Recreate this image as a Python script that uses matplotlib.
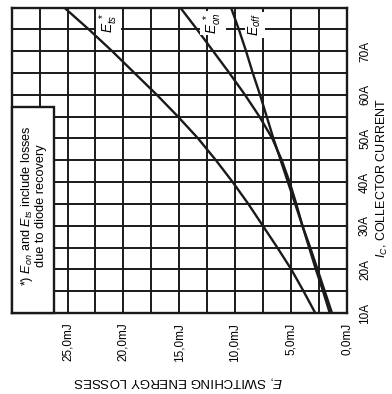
import matplotlib
matplotlib.use("Agg")
import matplotlib.pyplot as plt
from matplotlib.patches import Rectangle

plt.rcParams['font.family'] = ['Liberation Sans', 'DejaVu Sans']
plt.rcParams['mathtext.fontset'] = 'custom'
plt.rcParams['mathtext.rm'] = 'Liberation Sans'
plt.rcParams['mathtext.it'] = 'Liberation Sans:italic'

# collector current (A) and switching losses (mJ)
current = [10, 15, 20, 25, 30, 35, 40, 45, 50, 55, 60, 65, 70, 75, 80]
e_ts = [2.8, 3.85, 4.95, 6.2, 7.5, 8.8, 10.2, 11.7, 13.3, 15.1, 17.0, 19.0, 21.0, 23.1, 25.3]
e_on = [1.5, 2.1, 2.75, 3.35, 3.95, 4.5, 5.1, 5.8, 6.65, 7.8, 9.1, 10.5, 11.95, 13.4, 14.9]
e_off = [1.3, 1.95, 2.6, 3.25, 3.95, 4.6, 5.25, 5.9, 6.55, 7.15, 7.75, 8.4, 9.0, 9.65, 10.35]

energy_ticks = [0, 5, 10, 15, 20, 25]
energy_labels = ['0,0mJ', '5,0mJ', '10,0mJ', '15,0mJ', '20,0mJ', '25,0mJ']
current_ticks = [10, 20, 30, 40, 50, 60, 70]
current_labels = ['10A', '20A', '30A', '40A', '50A', '60A', '70A']

W, H = 392, 394
fig = plt.figure(figsize=(W / 100, H / 100), dpi=100)
# the sheet is drawn turned on its side: energy runs right-to-left along
# the bottom, current runs upward along the right edge
ax = fig.add_axes([11.7 / W, 1 - 313 / H, (346.5 - 11.7) / W, (313 - 7.5) / H])

ink = '#1a1a1a'
ax.plot(e_ts, current, color=ink, lw=1.7, zorder=3)
ax.plot(e_on, current, color=ink, lw=1.7, zorder=3)
ax.plot(e_off, current, color=ink, lw=1.7, zorder=3)

ax.set_xlim(30, 0)
ax.set_ylim(10, 80)
ax.set_xticks(energy_ticks)
ax.set_xticklabels(energy_labels, rotation=90, fontsize=8.5)
ax.set_xticks([i * 2.5 for i in range(13)], minor=True)
ax.yaxis.tick_right()
ax.set_yticks(current_ticks)
ax.set_yticklabels(current_labels, rotation=90, fontsize=8.5, va='center')
ax.set_yticks(list(range(10, 81, 5)), minor=True)
ax.tick_params(which='both', length=0)
ax.tick_params(axis='x', pad=7)
ax.tick_params(axis='y', pad=9)
ax.grid(which='both', color=ink, lw=1.4)
ax.set_axisbelow(True)
for s in ax.spines.values():
    s.set_linewidth(1.7)
    s.set_color(ink)

# curve names
lbl = dict(rotation=90, fontsize=10, ha='center', va='center', zorder=4,
           bbox=dict(facecolor='white', edgecolor='none', pad=1.0))
ax.text(21.3, 76.4, r'$E_{ts}^{\ *}$', **lbl)
ax.text(11.96, 76.4, r'$E_{on}^{\ *}$', **lbl)
ax.text(8.2, 76.0, r'$E_{off}$', **lbl)

# footnote box
ax.add_patch(Rectangle((30, 10), -3.8, 47.2, facecolor='white', edgecolor=ink,
                       lw=1.7, zorder=5, clip_on=False))
ax.text(28.1, 34.7, '*) $E_{on}$ and $E_{ts}$ include losses\ndue to diode recovery',
        rotation=90, fontsize=9.2, ha='center', va='center', multialignment='center',
        linespacing=1.05, zorder=6)

fig.text(178 / W, 1 - 382 / H, '$E$, SWITCHING ENERGY LOSSES', rotation=180,
         fontsize=9.5, ha='center', va='center')
fig.text(382 / W, 1 - 178 / H, '$I_C$, COLLECTOR CURRENT', rotation=90,
         fontsize=9, ha='center', va='center')

fig.savefig('out.png', dpi=100)
